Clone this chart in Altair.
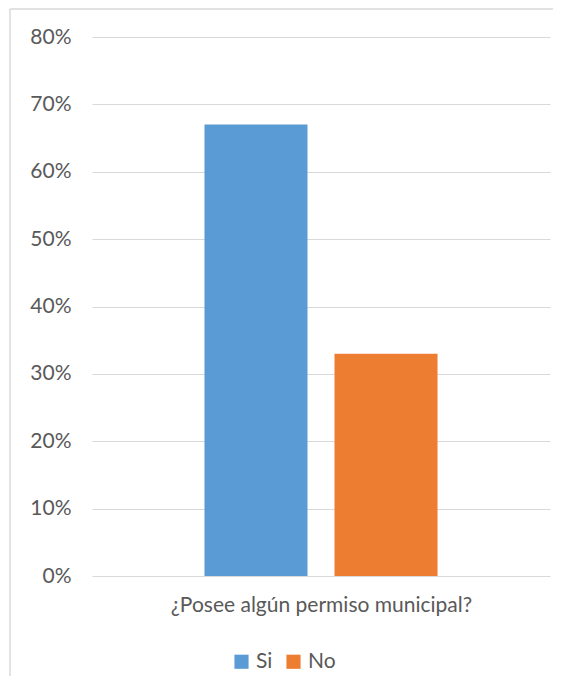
import altair as alt
import pandas as pd

question = "¿Posee algún permiso municipal?"
series = ["Si", "No"]
values = [0.67, 0.33]
colors = ["#5B9BD5", "#ED7D31"]
y_ticks = [0, 0.1, 0.2, 0.3, 0.4, 0.5, 0.6, 0.7, 0.8]

df = pd.DataFrame({"serie": series, "valor": values})

FONT = "Lato"
TXT = "#595959"
GRID = "#D9D9D9"

bars = alt.Chart(df).mark_bar().encode(
    x=alt.X("serie:N", sort=series,
            scale=alt.Scale(paddingInner=0.2077, paddingOuter=0.865),
            axis=alt.Axis(labels=False, ticks=False, domain=False, grid=False,
                          title=question, titlePadding=18, titleFontSize=21,
                          titleFontWeight="normal", titleColor=TXT, titleFont=FONT)),
    y=alt.Y("valor:Q", scale=alt.Scale(domain=[0, 0.8], nice=False),
            axis=alt.Axis(values=y_ticks, format=".0%", title=None, domain=False,
                          ticks=False, labelPadding=21, labelFontSize=21,
                          labelColor=TXT, labelFont=FONT, gridColor=GRID)),
    color=alt.Color("serie:N", sort=series,
                    scale=alt.Scale(domain=series, range=colors),
                    legend=alt.Legend(orient="none", legendX=139, legendY=614,
                                      direction="horizontal", title=None,
                                      symbolType="square", symbolSize=200,
                                      symbolStrokeWidth=0, labelFontSize=21,
                                      labelColor=TXT, labelFont=FONT,
                                      columnPadding=10, labelOffset=4)),
)

frame = pd.DataFrame({"a": [0]})
left_edge = alt.Chart(frame).mark_rule(stroke=GRID, strokeWidth=1.5).encode(
    x=alt.value(-82), y=alt.value(-28), y2=alt.value(700))
top_edge = alt.Chart(frame).mark_rule(stroke=GRID, strokeWidth=1.5).encode(
    x=alt.value(-82), x2=alt.value(600), y=alt.value(-28))

chart = alt.layer(left_edge, top_edge, bars).properties(
    width=458, height=539,
    autosize=alt.AutoSizeParams(type="none"),
    padding={"left": 84, "top": 29, "right": 3, "bottom": 100},
).configure(background="white").configure_view(stroke=None)

chart.save("out.html", embed_options={"renderer": "svg", "actions": False})
